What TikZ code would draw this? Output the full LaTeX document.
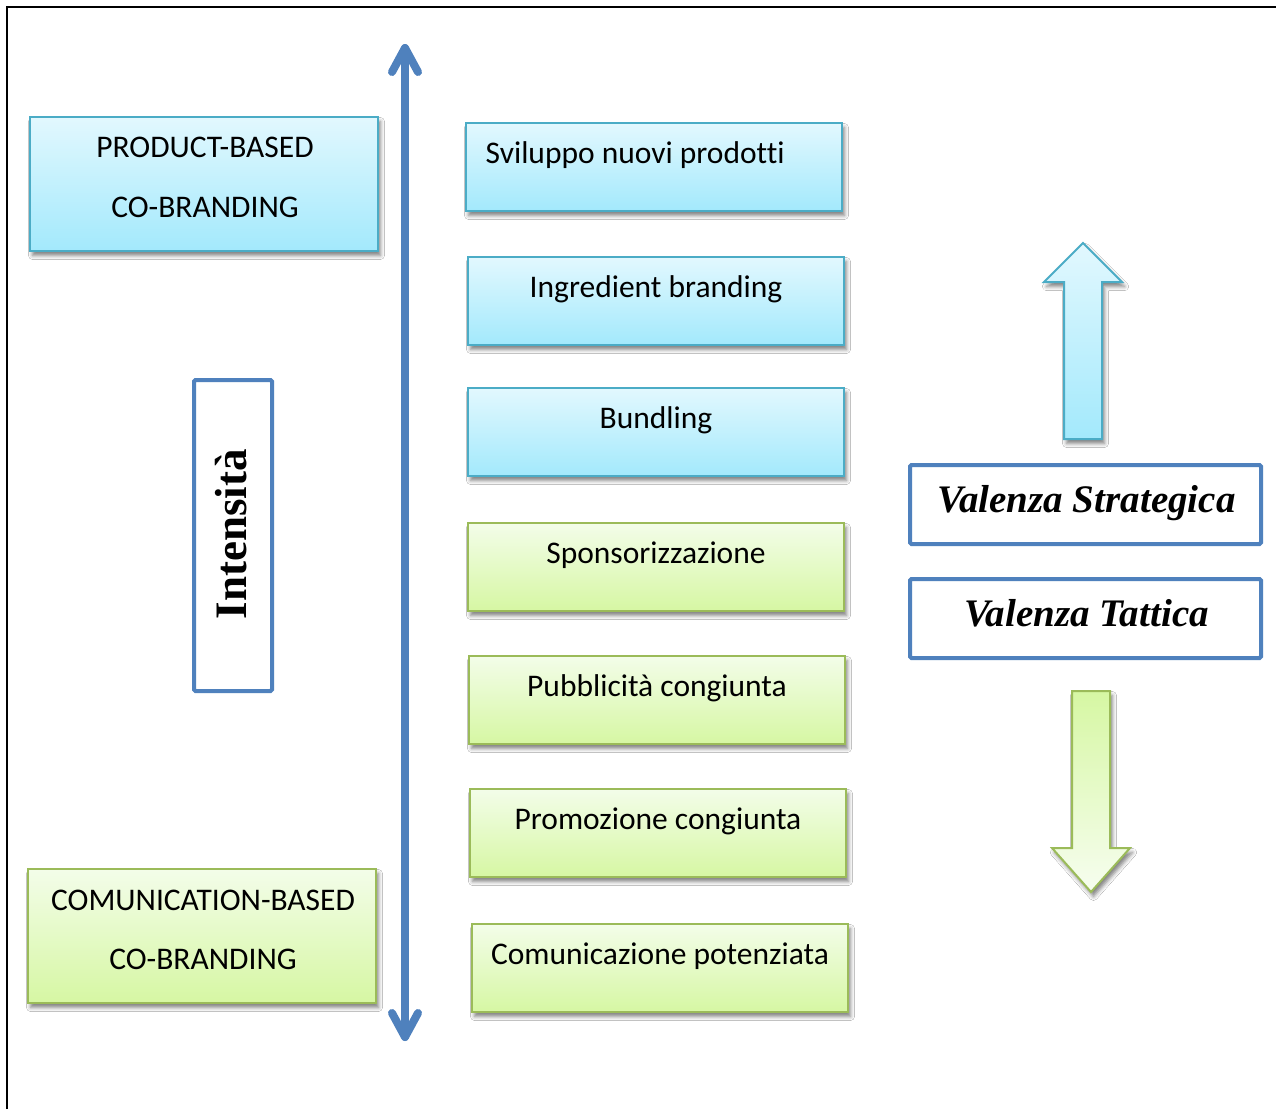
\documentclass[tikz,border=0pt]{standalone}
\usepackage{fontspec}
\setmainfont{Carlito}[Ligatures=NoCommon]
\newfontfamily\headserif{Liberation Serif}
\usetikzlibrary{shadows.blur}

\definecolor{axisblue}{HTML}{4F81BD}
\definecolor{cyanline}{HTML}{4BACC6}
\definecolor{cyantop}{HTML}{E2F8FE}
\definecolor{cyanbot}{HTML}{A3E9FC}
\definecolor{greenline}{HTML}{9BBB59}
\definecolor{greentop}{HTML}{F3FDE9}
\definecolor{greenbot}{HTML}{D6F7A3}

\begin{document}
\begin{tikzpicture}[x=1pt,y=-1pt,
  softshadow/.style={blur shadow={shadow xshift=2.5pt, shadow yshift=-4.5pt,
      shadow blur radius=4pt, shadow opacity=50}},
  cyanbox/.style={draw=cyanline, line width=2pt, top color=cyantop,
      bottom color=cyanbot, softshadow, inner sep=0pt, anchor=north west},
  greenbox/.style={draw=greenline, line width=2pt, top color=greentop,
      bottom color=greenbot, softshadow, inner sep=0pt, anchor=north west},
  midbox/.style={minimum width=376pt, minimum height=88pt},
  sidebox/.style={minimum width=348pt, minimum height=134pt},
  lbl/.style={font=\fontsize{31.5}{36}\selectfont, inner sep=0pt, anchor=base},
  frame/.style={draw=axisblue, line width=4pt, rounded corners=1.5pt, fill=white,
      anchor=north west},
  valenza/.style={font=\headserif\bfseries\itshape\fontsize{39}{44}\selectfont,
      inner sep=0pt, anchor=base},
  axis/.style={draw=axisblue, line width=8pt, line cap=round, line join=round},
]
\useasboundingbox (0,0) rectangle (1276,1109);
\fill[white] (0,0) rectangle (1276,1109);

% page frame (top and left edges only)
\draw[line width=2.6pt] (7,1109) -- (7,7) -- (1276,7);

% intensity axis with open arrowheads at both ends
\coordinate (axtop) at (405,48);
\coordinate (axbot) at (405,1037);
\draw[axis] (axtop) -- (axbot);
\draw[axis] (392,72) -- (axtop) -- (418,72);
\draw[axis] (392,1013) -- (axbot) -- (418,1013);

% left category boxes
\node[cyanbox, sidebox] (pb) at (29,116) {};
\node[lbl] (pb1) at (205,157) {PRODUCT-BASED};
\node[lbl] (pb2) at (205,217) {CO-BRANDING};

\node[greenbox, sidebox] (cb) at (27,868) {};
\node[lbl] (cb1) at (203,910) {COMUNICATION-BASED};
\node[lbl] (cb2) at (203,969.5) {CO-BRANDING};

% vertical label
\node[frame, minimum width=78pt, minimum height=311pt] (intbox) at (192,378) {};
\node[font=\headserif\bfseries\fontsize{45}{50}\selectfont, rotate=90, inner sep=0pt,
      anchor=base] (int) at (246,534) {Intensità};

% forms of co-branding
\node[cyanbox, midbox] (m1) at (465,122) {};
\node[lbl, anchor=base west] (t1) at (485.5,163.5) {Sviluppo nuovi prodotti};
\node[cyanbox, midbox] (m2) at (467,256) {};
\node[lbl] (t2) at ([yshift=-41pt]m2.north) {Ingredient branding};
\node[cyanbox, midbox] (m3) at (467,387) {};
\node[lbl] (t3) at ([yshift=-41pt]m3.north) {Bundling};
\node[greenbox, midbox] (m4) at (467,522) {};
\node[lbl] (t4) at ([yshift=-41pt]m4.north) {Sponsorizzazione};
\node[greenbox, midbox] (m5) at (468,655) {};
\node[lbl] (t5) at ([yshift=-41pt]m5.north) {Pubblicità congiunta};
\node[greenbox, midbox] (m6) at (469,788) {};
\node[lbl] (t6) at ([yshift=-41pt]m6.north) {Promozione congiunta};
\node[greenbox, midbox] (m7) at (471,923) {};
\node[lbl] (t7) at ([yshift=-41pt]m7.north) {Comunicazione potenziata};

% strategic / tactical value
\path[draw=cyanline, line width=2pt, line join=miter, top color=cyantop,
      bottom color=cyanbot, softshadow]
  (1064,439) -- (1064,282) -- (1044,282) -- (1083,243) -- (1122,282)
  -- (1102,282) -- (1102,439) -- cycle;

\node[frame, minimum width=351pt, minimum height=79pt] (vs) at (908,463) {};
\node[valenza] (vst) at (1086.5,512) {Valenza Strategica};
\node[frame, minimum width=351pt, minimum height=79pt] (vt) at (908,577) {};
\node[valenza] (vtt) at (1086.5,626) {Valenza Tattica};

\path[draw=greenline, line width=2pt, line join=miter, top color=greenbot,
      bottom color=greentop!70!white, softshadow]
  (1072,691) -- (1110,691) -- (1110,848) -- (1130,848) -- (1091,892)
  -- (1052,848) -- (1072,848) -- cycle;
\end{tikzpicture}
\end{document}
